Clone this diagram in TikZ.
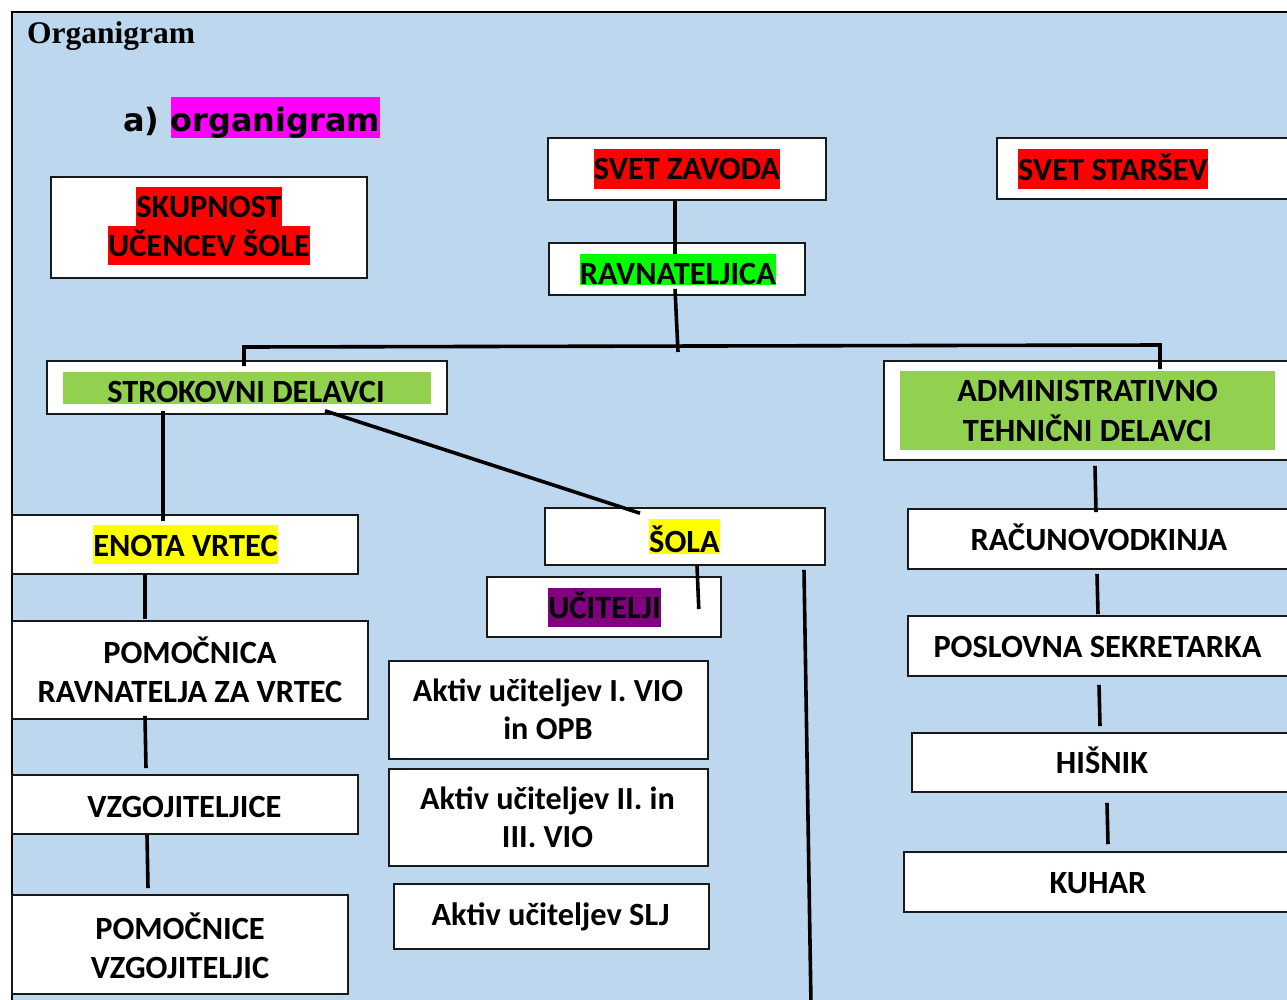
\documentclass[tikz,border=0pt]{standalone}
\usepackage{fontspec}
\setmainfont{Carlito}
\newfontfamily\tnr{Liberation Serif}
\newfontfamily\dvs{DejaVu Sans}
\definecolor{bg}{HTML}{BDD7EE}
\definecolor{hred}{HTML}{FF0000}
\definecolor{hgreen}{HTML}{00FF00}
\definecolor{lgreen}{HTML}{92D050}
\definecolor{hyellow}{HTML}{FFFF00}
\definecolor{hpurple}{HTML}{800080}
\definecolor{hmag}{HTML}{FF00FF}
\setlength{\fboxsep}{0pt}
\newcommand\hl[4]{\colorbox{#1}{\rule[-#3pt]{0pt}{\dimexpr#2pt+#3pt\relax}#4}}
\newcommand\sr[2]{\rule[-#2pt]{0pt}{\dimexpr#1pt+#2pt\relax}}
\begin{document}
\begin{tikzpicture}[x=1pt,y=-1pt,
  box/.style={draw=black!90, line width=1.6pt, fill=white, inner sep=0pt, rectangle},
  band/.style={fill=lgreen, inner sep=0pt, rectangle},
  txt/.style={inner sep=0pt, align=center, font=\bfseries\fontsize{32.4}{39}\selectfont},
  txtb/.style={txt, font=\bfseries\fontsize{32.2}{38}\selectfont},
  txtc/.style={txt, font=\bfseries\fontsize{32.4}{40}\selectfont},
  conn/.style={line width=3.6pt, black}]
\useasboundingbox (0,0) rectangle (1287,999);
\clip (0,0) rectangle (1287,999);
\fill[white] (0,0) rectangle (1287,999);
\fill[bg] (12,12) rectangle (1300,1010);
\draw[line width=2.6pt] (12,1010) -- (12,12) -- (1300,12);

% titles
\node[anchor=base west, inner sep=0pt, font=\tnr\bfseries\fontsize{31.5}{36}\selectfont] (title) at (27,43) {Organigram};
\node[anchor=base west, inner sep=0pt, font=\dvs\bfseries\fontsize{32}{36}\selectfont] (sub) at (123,131) {a) \hl{hmag}{34}{6}{organigram}};

% boxes
\node[box, minimum width=316pt, minimum height=101pt] (skup) at (209,227.5) {};
\node[box, minimum width=278pt, minimum height=62pt] (zavod) at (687,169) {};
\node[box, minimum width=256pt, minimum height=52pt] (ravn) at (677,269) {};
\node[box, minimum width=303pt, minimum height=61pt] (starsev) at (1148.5,168.5) {};
\node[box, minimum width=400pt, minimum height=53pt] (strok) at (247,387.5) {};
\node[box, minimum width=407pt, minimum height=99pt] (admin) at (1087.5,410.5) {};
\node[box, minimum width=346pt, minimum height=59pt] (vrtec) at (185,544.5) {};
\node[box, minimum width=280pt, minimum height=57pt] (sola) at (685,536.5) {};
\node[box, minimum width=234pt, minimum height=60pt] (ucit) at (604,607) {};
\node[box, minimum width=356pt, minimum height=98pt] (pomoc) at (190,670) {};
\node[box, minimum width=346pt, minimum height=59pt] (vzg) at (185,804.5) {};
\node[box, minimum width=336pt, minimum height=99pt] (pomv) at (180,944.5) {};
\node[box, minimum width=319pt, minimum height=98pt] (akt1) at (548.5,710) {};
\node[box, minimum width=319pt, minimum height=97pt] (akt2) at (548.5,817.5) {};
\node[box, minimum width=315pt, minimum height=65pt] (akt3) at (551.5,916.5) {};
\node[box, minimum width=382pt, minimum height=60pt] (racun) at (1099,539) {};
\node[box, minimum width=382pt, minimum height=60pt] (posl) at (1099,646) {};
\node[box, minimum width=378pt, minimum height=59pt] (hisnik) at (1101,762.5) {};
\node[box, minimum width=386pt, minimum height=60pt] (kuhar) at (1097,882) {};

% shaded bands
\node[band, minimum width=368pt, minimum height=32pt] (strokB) at (247,388) {};
\node[band, minimum width=375pt, minimum height=79pt] (adminB) at (1087.5,410.5) {};

% connectors
\coordinate (busL) at (244,347);
\coordinate (busR) at (1160,345);
\coordinate (ravnEnd) at (678,352);
\coordinate (longEnd) at (811,1005);
\draw[conn] ([xshift=-12pt]zavod.south) -- ([xshift=-2pt,yshift=-12pt]ravn.north);
\draw[conn] ([xshift=-2pt,yshift=7pt]ravn.south) -- (ravnEnd);
\draw[conn] ([xshift=-3pt,yshift=-6pt]strok.north) -- (busL) -- (busR) -- ([xshift=72.5pt,yshift=-9pt]admin.north);
\draw[conn] ([xshift=-84pt,yshift=4pt]strok.south) -- ([xshift=-22pt,yshift=-7pt]vrtec.north);
\draw[conn] ([xshift=78pt,yshift=4pt]strok.south) -- ([xshift=-45pt,yshift=-6pt]sola.north);
\draw[conn] ([xshift=-40pt,yshift=1pt]vrtec.south) -- ([xshift=-45pt,yshift=1pt]pomoc.north);
\draw[conn] ([xshift=-45pt,yshift=4pt]pomoc.south) -- ([xshift=-39pt,yshift=6pt]vzg.north);
\draw[conn] ([xshift=-38pt]vzg.south) -- ([xshift=-32pt,yshift=6pt]pomv.north);
\draw[conn] ([xshift=12pt]sola.south) -- ([xshift=-23pt,yshift=-2pt]ucit.east);
\draw[conn] ([xshift=119pt,yshift=-4pt]sola.south) -- (longEnd);
\draw[conn] ([xshift=7.5pt,yshift=-5pt]admin.south) -- ([xshift=-3pt,yshift=-4pt]racun.north);
\draw[conn] ([xshift=-2pt,yshift=-4pt]racun.south) -- ([xshift=-1pt,yshift=1pt]posl.north);
\draw[conn] ([yshift=-8pt]posl.south) -- ([xshift=-1pt,yshift=6pt]hisnik.north);
\draw[conn] ([xshift=6pt,yshift=-10pt]hisnik.south) -- ([xshift=11pt,yshift=7pt]kuhar.north);

% texts
\node[txt] (skupT) at (209,226) {\hl{hred}{30}{9}{SKUPNOST}\\\hl{hred}{30}{9}{UČENCEV ŠOLE}};
\node[txt] (zavodT) at (687,169) {\hl{hred}{30}{10}{SVET ZAVODA}};
\node[txt] (ravnT) at (678,269.5) {\hl{hgreen}{30}{1}{RAVNATELJICA}};
\node[txt, anchor=west] (starsevT) at (1018,169) {\hl{hred}{31}{9}{SVET STARŠEV}};
\node[txt, anchor=base] (strokT) at (246,402) {STROKOVNI DELAVCI};
\node[txtc] (adminT) at (1087.5,411) {\sr{30}{10}ADMINISTRATIVNO\\\sr{30}{10}TEHNIČNI DELAVCI};
\node[txt] (vrtecT) at (185.5,544.5) {\hl{hyellow}{31}{8}{ENOTA VRTEC}};
\node[txt] (solaT) at (684.5,536.5) {\hl{hyellow}{33}{2}{ŠOLA}};
\node[txt] (ucitT) at (604.5,607.5) {\hl{hpurple}{30}{9}{UČITELJI}};
\node[txt] (pomocT) at (190,672) {\sr{30}{9}POMOČNICA\\\sr{30}{9}RAVNATELJA ZA VRTEC};
\node[txt] (vzgT) at (184.5,807) {\sr{30}{10}VZGOJITELJICE};
\node[txt] (pomvT) at (180,948) {\sr{30}{9}POMOČNICE\\\sr{30}{9}VZGOJITELJIC};
\node[txtb] (akt1T) at (548,710.5) {\sr{29}{9}Aktiv učiteljev I. VIO\\\sr{29}{9}in OPB};
\node[txtb] (akt2T) at (547.5,818.5) {\sr{29}{9}Aktiv učiteljev II. in\\\sr{29}{9}III. VIO};
\node[txt] (akt3T) at (550.5,915) {\sr{30}{10}Aktiv učiteljev SLJ};
\node[txt] (racunT) at (1099,540) {\sr{30}{10}RAČUNOVODKINJA};
\node[txt] (poslT) at (1097.5,647) {\sr{30}{10}POSLOVNA SEKRETARKA};
\node[txt] (hisT) at (1102,763) {\sr{30}{10}HIŠNIK};
\node[txt] (kuhT) at (1098,883) {\sr{30}{10}KUHAR};
\end{tikzpicture}
\end{document}
